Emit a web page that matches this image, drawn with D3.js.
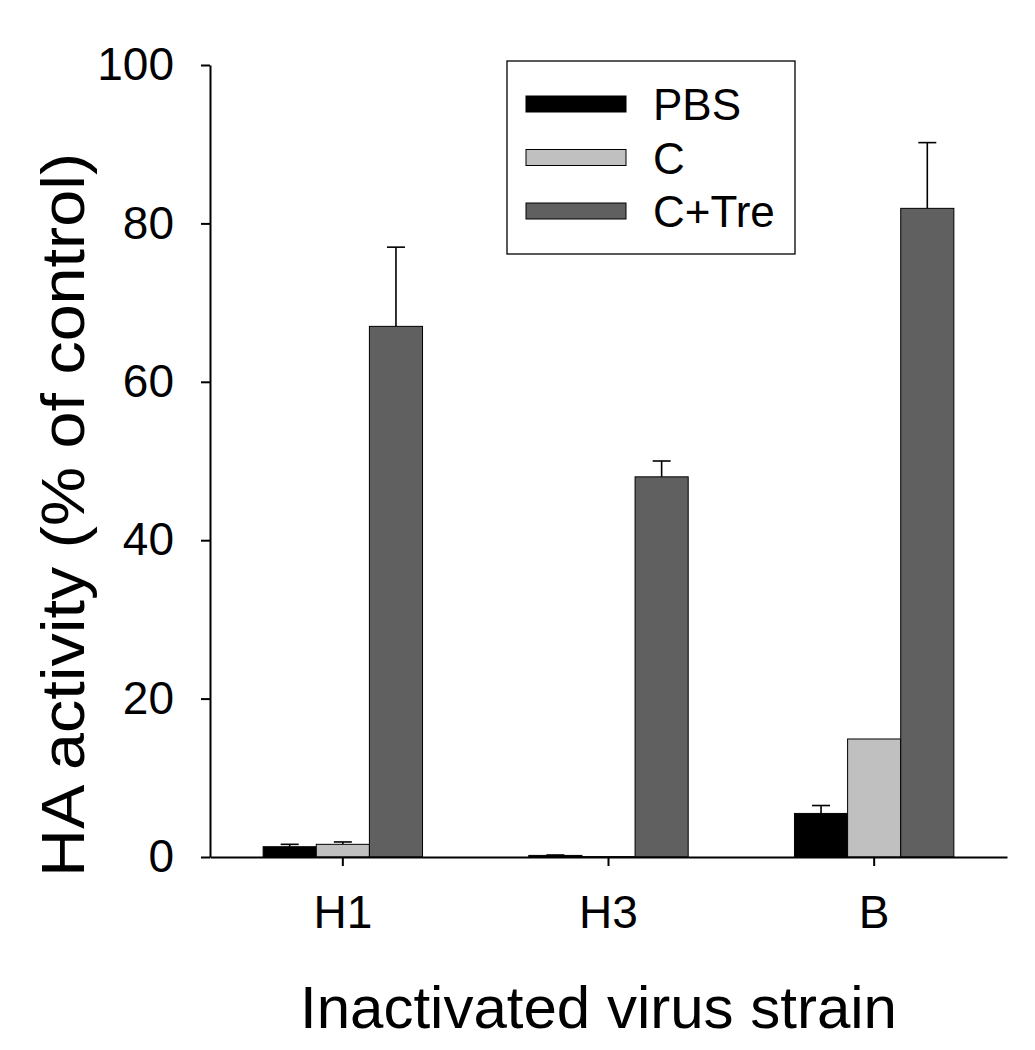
<!DOCTYPE html>
<html>
<head>
<meta charset="utf-8">
<script src="https://cdn.jsdelivr.net/npm/d3@7"></script>
<style>
  body { margin: 0; background: #fff; }
  svg text { font-family: "Liberation Sans", Arial, sans-serif; fill: #000; }
</style>
</head>
<body>
<div id="chart"></div>
<script>
// data
var strains = ["H1", "H3", "B"];
var groups = ["PBS", "C", "C+Tre"];
var pbsMean = [1.3, 0.2, 5.5];
var pbsErr = [0.3, 0.05, 1.0];
var cMean = [1.6, 0.05, 14.9];
var cErr = [0.3, 0, 0];
var treMean = [67, 48, 81.9];
var treErr = [10, 2, 8.3];
var yTicks = [0, 20, 40, 60, 80, 100];

var fills = { "PBS": "#000000", "C": "#c0c0c0", "C+Tre": "#606060" };

var means = { "PBS": pbsMean, "C": cMean, "C+Tre": treMean };
var errs = { "PBS": pbsErr, "C": cErr, "C+Tre": treErr };

var width = 1035, height = 1050;
var margin = { left: 210, right: 28, top: 65, bottom: 193 };

var svg = d3.select("#chart").append("svg")
    .attr("width", width)
    .attr("height", height);

var x0 = d3.scaleBand()
    .domain(strains)
    .range([margin.left, width - margin.right])
    .paddingInner(0)
    .paddingOuter(0);

var groupW = x0.bandwidth() * 0.6;
var x1 = d3.scaleBand()
    .domain(groups)
    .range([-groupW / 2, groupW / 2]);

var y = d3.scaleLinear()
    .domain([0, 100])
    .range([height - margin.bottom, margin.top]);

// flatten for drawing
var bars = [];
strains.forEach(function (s, i) {
    groups.forEach(function (g) {
        bars.push({ strain: s, group: g, v: means[g][i], e: errs[g][i] });
    });
});

// error bars (upper only), drawn first so bars cover the stem base
var eb = svg.append("g").attr("stroke", "#000").attr("stroke-width", 1.6);
bars.filter(function (d) { return d.e > 0; }).forEach(function (d) {
    var cx = x0(d.strain) + x0.bandwidth() / 2 + x1(d.group) + x1.bandwidth() / 2;
    eb.append("line")
        .attr("x1", cx).attr("x2", cx)
        .attr("y1", y(d.v)).attr("y2", y(d.v + d.e));
    eb.append("line")
        .attr("x1", cx - 9).attr("x2", cx + 9)
        .attr("y1", y(d.v + d.e)).attr("y2", y(d.v + d.e));
});

svg.append("g")
    .selectAll("rect")
    .data(bars)
    .join("rect")
    .attr("x", function (d) { return x0(d.strain) + x0.bandwidth() / 2 + x1(d.group); })
    .attr("width", x1.bandwidth())
    .attr("y", function (d) { return y(d.v); })
    .attr("height", function (d) { return y(0) - y(d.v); })
    .attr("fill", function (d) { return fills[d.group]; })
    .attr("stroke", "#000")
    .attr("stroke-width", 1);

// axes
var yAxis = svg.append("g")
    .attr("transform", "translate(" + margin.left + ",0)")
    .call(d3.axisLeft(y).tickValues(yTicks).tickSize(9).tickPadding(27).tickSizeOuter(0));

var xAxis = svg.append("g")
    .attr("transform", "translate(0," + y(0) + ")")
    .call(d3.axisBottom(x0).tickSize(9).tickPadding(29).tickSizeOuter(0));

[yAxis, xAxis].forEach(function (a) {
    a.selectAll("path, line").attr("stroke", "#000").attr("stroke-width", 2);
    a.selectAll("text").style("font-size", "46px").style("font-family", "'Liberation Sans', Arial, sans-serif");
});

// axis titles
svg.append("text")
    .attr("x", (margin.left + width - margin.right) / 2 - 10)
    .attr("y", 1028)
    .attr("text-anchor", "middle")
    .style("font-size", "60px")
    .text("Inactivated virus strain");

svg.append("text")
    .attr("transform", "translate(84,515) rotate(-90) scale(1.09,1)")
    .attr("text-anchor", "middle")
    .style("font-size", "61px")
    .text("HA activity (% of control)");

// legend
var lg = svg.append("g");
lg.append("rect")
    .attr("x", 507).attr("y", 61)
    .attr("width", 288).attr("height", 193)
    .attr("fill", "#fff").attr("stroke", "#000").attr("stroke-width", 1.3);

var legY = d3.scalePoint().domain(groups).range([104, 211]);
groups.forEach(function (g) {
    lg.append("rect")
        .attr("x", 526).attr("y", legY(g) - 8)
        .attr("width", 100).attr("height", 16)
        .attr("fill", fills[g]).attr("stroke", "#000").attr("stroke-width", 1);
    lg.append("text")
        .attr("x", 653).attr("y", legY(g) + 16)
        .style("font-size", "44px")
        .text(g);
});
</script>
</body>
</html>
